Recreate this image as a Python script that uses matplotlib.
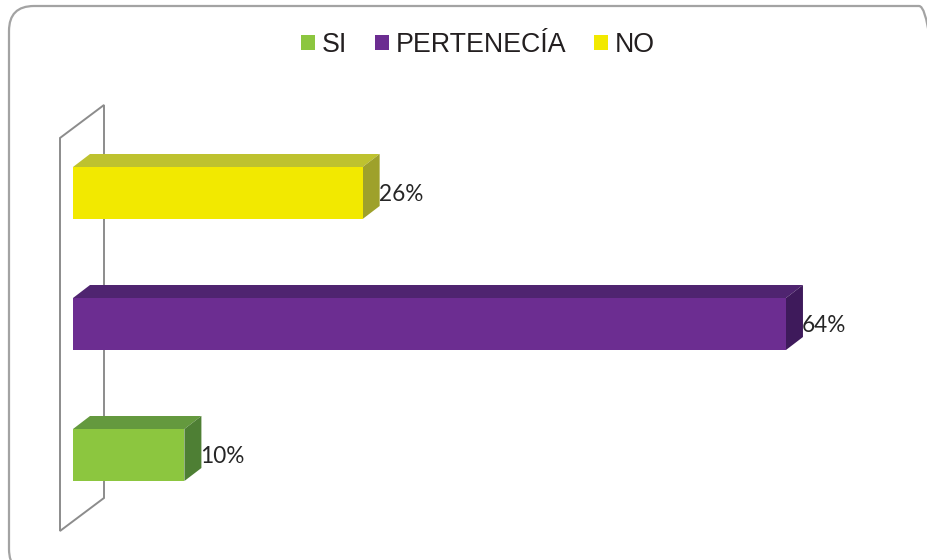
#!/usr/bin/env python3
"""Excel-style 3D horizontal bar chart: SI / PERTENECÍA / NO."""

import matplotlib

matplotlib.use("Agg")
import matplotlib.pyplot as plt
from matplotlib.patches import Polygon, Rectangle, Patch, FancyBboxPatch
from matplotlib.transforms import IdentityTransform

# data (bottom to top)
categories = ["SI", "PERTENECÍA", "NO"]
values = [10, 64, 26]
value_labels = ["10%", "64%", "26%"]

# colours: front face, top face, side face
front_colors = ["#8cc63f", "#6c2d91", "#f2e900"]
top_colors = ["#64993e", "#4f2470", "#bec22f"]
side_colors = ["#4e7f34", "#3e1a5b", "#9ea12b"]

# layout in pixels (figure is 927 x 560 at 100 dpi)
W, H, DPI = 927, 560, 100
X0_PX = 73.0  # x pixel of 0 %
PX_PER_PCT = 11.14
Y0_PX = 455.0  # y pixel (from top) of first category centre
PX_PER_CAT = 131.0
BAR_H_PX = 52.0
BAR_DEPTH = (17.0, 13.0)
WALL_DEPTH = (44.0, 33.0)
WALL_INSET = 13.0

XLIM = (-5, 75)
YLIM = (-0.7, 2.9)


def main():
    fig = plt.figure(figsize=(W / DPI, H / DPI), dpi=DPI)
    fig.patch.set_facecolor("white")

    # axes placed so that data units map to the pixel scale above
    left_px = X0_PX + XLIM[0] * PX_PER_PCT
    right_px = X0_PX + XLIM[1] * PX_PER_PCT
    bottom_px = Y0_PX - YLIM[0] * PX_PER_CAT
    top_px = Y0_PX - YLIM[1] * PX_PER_CAT
    ax = fig.add_axes(
        [
            left_px / W,
            (H - bottom_px) / H,
            (right_px - left_px) / W,
            (bottom_px - top_px) / H,
        ]
    )
    ax.set_xlim(*XLIM)
    ax.set_ylim(*YLIM)
    ax.axis("off")

    ddx = BAR_DEPTH[0] / PX_PER_PCT
    ddy = BAR_DEPTH[1] / PX_PER_CAT
    bh = BAR_H_PX / PX_PER_CAT

    # side wall (outline only)
    wx = -WALL_INSET / PX_PER_PCT
    wy0, wy1 = -0.58, 2.42
    wdx = WALL_DEPTH[0] / PX_PER_PCT
    wdy = WALL_DEPTH[1] / PX_PER_CAT
    wall = Polygon(
        [(wx, wy0), (wx, wy1), (wx + wdx, wy1 + wdy), (wx + wdx, wy0 + wdy)],
        closed=True,
        facecolor="white",
        edgecolor="#8c8c8c",
        linewidth=1.4,
        zorder=1,
    )
    ax.add_patch(wall)

    for i, (v, lab) in enumerate(zip(values, value_labels)):
        y0, y1 = i - bh / 2, i + bh / 2
        top = Polygon(
            [(0, y1), (v, y1), (v + ddx, y1 + ddy), (ddx, y1 + ddy)],
            closed=True,
            facecolor=top_colors[i],
            edgecolor="none",
            zorder=3,
        )
        side = Polygon(
            [(v, y0), (v, y1), (v + ddx, y1 + ddy), (v + ddx, y0 + ddy)],
            closed=True,
            facecolor=side_colors[i],
            edgecolor="none",
            zorder=3,
        )
        front = Rectangle(
            (0, y0), v, bh, facecolor=front_colors[i], edgecolor="none", zorder=4
        )
        ax.add_patch(top)
        ax.add_patch(side)
        ax.add_patch(front)
        ax.text(
            v + ddx * 0.95,
            i - 0.015,
            lab,
            ha="left",
            va="center",
            fontsize=16.3,
            family=["Lato", "DejaVu Sans"],
            color="#262626",
            zorder=5,
        )

    # legend
    handles = [Patch(facecolor=c, edgecolor="none") for c in front_colors]
    fig.legend(
        handles,
        categories,
        loc="center",
        bbox_to_anchor=(478 / W, 1 - 45 / H),
        ncol=3,
        frameon=False,
        prop={"family": ["Liberation Sans", "DejaVu Sans"], "size": 19.3},
        labelcolor="#231f20",
        handlelength=0.52,
        handleheight=0.52,
        handletextpad=0.24,
        columnspacing=1.05,
    )

    # rounded chart border, cut off at right and bottom
    border = FancyBboxPatch(
        (9, H - 574),
        935,
        568,
        boxstyle="round,pad=0,rounding_size=25",
        transform=IdentityTransform(),
        facecolor="none",
        edgecolor="#a3a3a3",
        linewidth=1.6,
    )
    fig.add_artist(border)

    fig.savefig("out.png", dpi=DPI)


if __name__ == "__main__":
    main()
